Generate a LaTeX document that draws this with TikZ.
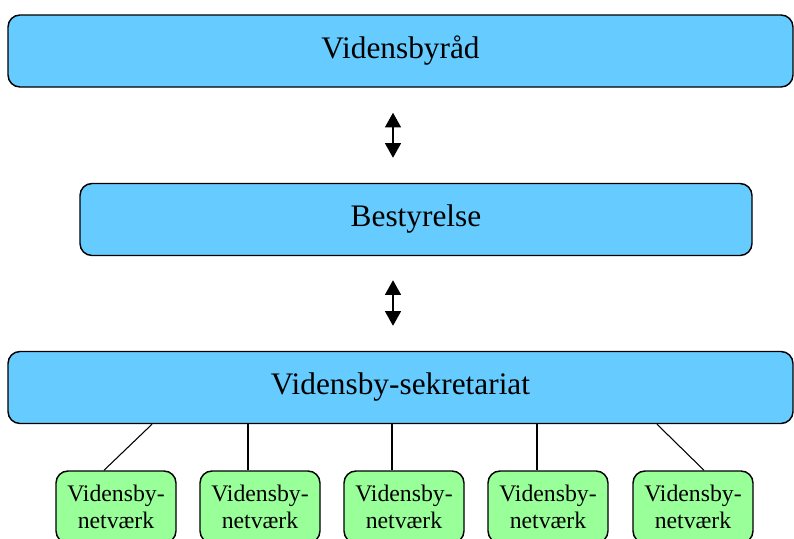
\documentclass[tikz,border=0pt]{standalone}
\usepackage{fontspec}
\setmainfont{Liberation Serif}
\usetikzlibrary{arrows.meta, positioning, calc}

\begin{document}
\begin{tikzpicture}[x=0.75pt, y=-0.75pt,
        bluebox/.style={draw=black, line width=1.1pt, rounded corners=9pt, fill=skyblue,
            minimum height=54pt, inner sep=0pt, font=\fontsize{23.5}{28}\selectfont},
        netbox/.style={draw=black, line width=1.1pt, rounded corners=9pt, fill=lightgreen,
            minimum width=90pt, minimum height=54pt, inner sep=0pt, align=center,
            font=\fontsize{17.8}{20}\selectfont},
        biarrow/.style={{Triangle[width=12pt, length=11pt]}-{Triangle[width=12pt, length=11pt]}, line width=1pt},
        link/.style={line width=0.8pt}]
                        \definecolor{skyblue}{HTML}{66CCFF}
                        \definecolor{lightgreen}{HTML}{99FF99}
                        \useasboundingbox (0,0) rectangle (794,539);

                        \node[bluebox, minimum width=588.75pt] (raad) at (400.5, 51) {Vidensbyråd};
                        \node[bluebox, minimum width=504pt] (best) at (416, 219.5) {Bestyrelse};
                        \node[bluebox, minimum width=588.75pt] (sek) at (400.5, 387.5) {Vidensby-sekretariat};

                        \node[netbox] (n1) at (116, 507) {Vidensby-\\netværk};
                        \node[netbox] (n2) at (260, 507) {Vidensby-\\netværk};
                        \node[netbox] (n3) at (404, 507) {Vidensby-\\netværk};
                        \node[netbox] (n4) at (548, 507) {Vidensby-\\netværk};
                        \node[netbox] (n5) at (693, 507) {Vidensby-\\netværk};

                        \coordinate (mid) at (393, 0);
                        \coordinate (t1) at (152, 0);
                        \coordinate (t5) at (657, 0);
                        \path ([xshift=-9pt]n1.north) coordinate (b1)
                              ([xshift=-9pt]n2.north) coordinate (b2)
                              ([xshift=-9pt]n3.north) coordinate (b3)
                              ([xshift=-8.25pt]n4.north) coordinate (b4)
                              ([xshift=8.25pt]n5.north) coordinate (b5);

                        \draw[biarrow, shorten <=18.75pt, shorten >=18.75pt] (raad.south -| mid) -- (best.north -| mid);
                        \draw[biarrow, shorten <=18pt, shorten >=18.75pt] (best.south -| mid) -- (sek.north -| mid);

                        \draw[link]
                        (sek.south -| t1) edge (b1)
                        (sek.south -| b2) edge (b2)
                        (sek.south -| b3) edge (b3)
                        (sek.south -| b4) edge (b4)
                        (sek.south -| t5) edge (b5);
                    \end{tikzpicture}
\end{document}
